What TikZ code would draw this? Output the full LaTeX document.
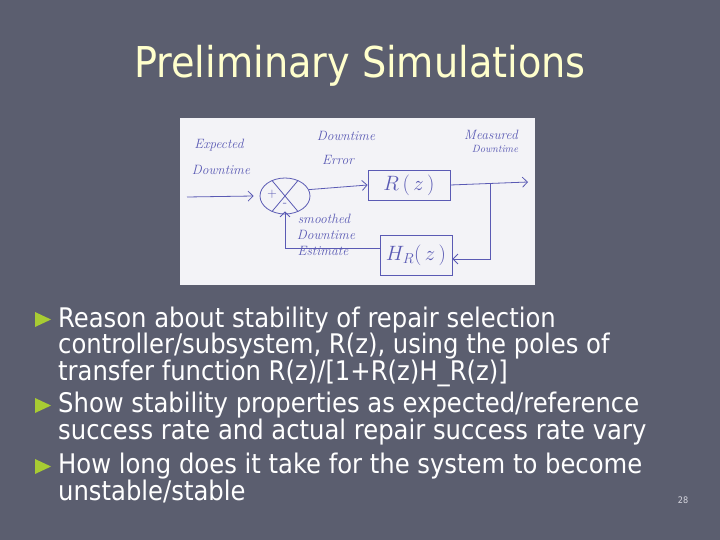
\documentclass[tikz,border=0pt]{standalone}
\usepackage{fontspec}
\setmainfont{DejaVu Sans Condensed}
\newfontfamily\handfont{Latin Modern Roman}
\usetikzlibrary{arrows.meta,shapes.geometric}
\definecolor{slidebg}{HTML}{5B5E6F}
\definecolor{titlecol}{HTML}{FFFFCC}
\definecolor{bulletgreen}{HTML}{A8CC33}
\definecolor{paper}{HTML}{F3F3F7}
\definecolor{ink}{HTML}{5A5AB4}
\definecolor{pagenum}{HTML}{D8D8E0}
\begin{document}
\begin{tikzpicture}[x=1pt,y=-1pt,
  titletext/.style={text=titlecol,font=\fontsize{42.5}{46}\selectfont,inner sep=0},
  bodytext/.style={text=white,font=\fontsize{27}{26.5}\selectfont,inner sep=0,anchor=base west,align=left},
  pen/.style={draw=ink,line width=0.8pt},
  penarrow/.style={pen,-{Straight Barb[length=5pt,width=10pt]}},
  hand/.style={text=ink,font=\handfont\itshape\fontsize{13.5}{14}\selectfont,inner sep=0},
  blockbox/.style={pen,rectangle,inner sep=0,text=ink,font=\handfont\itshape\fontsize{20}{22}\selectfont}
]
\fill[slidebg] (0,0) rectangle (720,540);
\useasboundingbox (0,0) rectangle (720,540);

\node[titletext] (title) at (360,66) {Preliminary Simulations};

% diagram
\fill[paper] (180,118) rectangle (535,285);
\node[pen,ellipse,minimum width=50,minimum height=36,inner sep=0] (sum) at (285,196) {};
\draw[pen] (sum.130) -- (sum.-50);
\draw[pen] (sum.50) -- (sum.-130);
\node[hand,font=\handfont\fontsize{13}{13}\selectfont] (plus) at (272,194) {+};
\node[hand,font=\handfont\fontsize{13}{13}\selectfont] (minus) at (285,205) {-};
\node[blockbox,minimum width=82,minimum height=30] (R) at (409,185) {$R\,(\,z\,)$};
\node[blockbox,minimum width=72,minimum height=40] (H) at (416,255) {$H_R(\,z\,)$};
\coordinate (in) at (187,197);
\coordinate (out) at (528,182);
\coordinate (br) at (490,183);
\draw[penarrow] (in) -- ([xshift=-6pt]sum.west);
\draw[penarrow] (sum.15) -- (R.west);
\draw[penarrow] (R.east) -- (out);
\draw[penarrow] (br) |- ([yshift=-4pt]H.east);
\draw[penarrow] ([yshift=7pt]H.west) -| ([yshift=3pt]sum.south);

\node[hand] (e1) at (219,145) {Expected};
\node[hand] (e2) at (221,170) {Downtime};
\node[hand] (d1) at (346,136) {Downtime};
\node[hand] (d2) at (338,160) {Error};
\node[hand] (m1) at (491,135) {Measured};
\node[hand,font=\handfont\itshape\fontsize{10.5}{11}\selectfont] (m2) at (495,149) {Downtime};
\node[hand] (s1) at (324,219) {smoothed};
\node[hand] (s2) at (326,235) {Downtime};
\node[hand] (s3) at (323,251) {Estimate};

% bullets
\foreach \y in {319.5,405.5,466.5}{
  \fill[bulletgreen] (35,\y-7.5) -- (51,\y) -- (35,\y+7.5) -- cycle;
}
\node[bodytext] (b1) at (58,380) {Reason about stability of repair selection\\controller/subsystem, R(z), using the poles of\\transfer function R(z)/[1+R(z)H\_R(z)]};
\node[bodytext] (b2) at (58,439) {Show stability properties as expected/reference\\success rate and actual repair success rate vary};
\node[bodytext] (b3) at (58,500) {How long does it take for the system to become\\unstable/stable};

\node[text=pagenum,font=\fontsize{9}{9}\selectfont,inner sep=0] (pg) at (683,500) {28};
\end{tikzpicture}
\end{document}
